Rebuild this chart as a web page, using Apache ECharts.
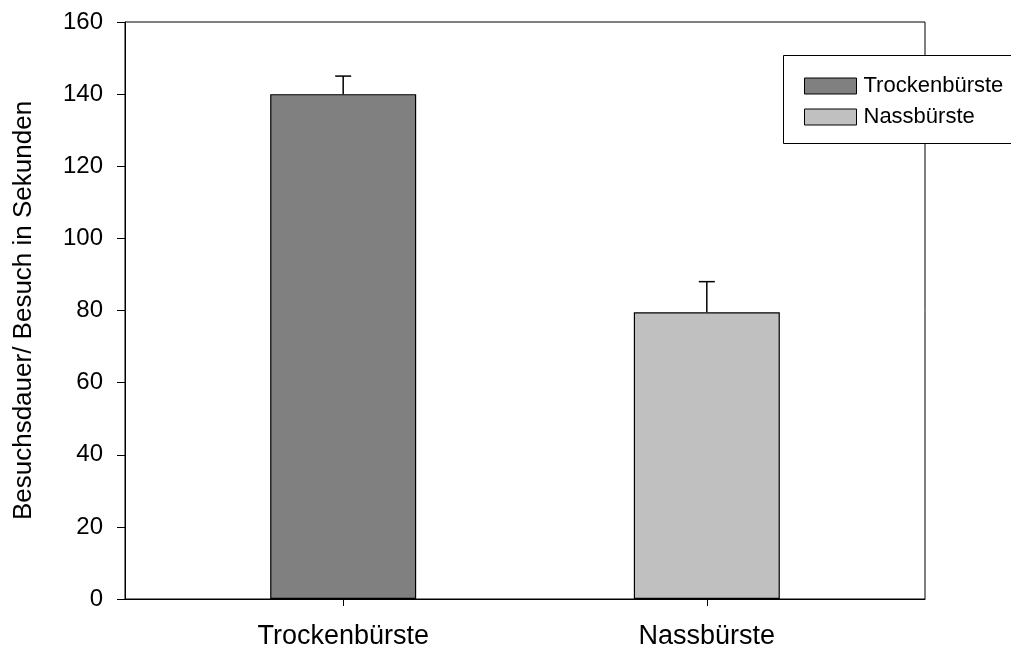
<!DOCTYPE html>
<html><head><meta charset="utf-8">
<script src="https://cdn.jsdelivr.net/npm/echarts@6/dist/echarts.min.js"></script>
<style>html,body{margin:0;padding:0;background:#fff}#c{width:1011px;height:650px}</style>
</head><body><div id="c"></div>
<script>
const categories = ['Trockenbürste', 'Nassbürste'];
const positions = [0, 1];
const means = [140, 79.5];
const errors = [5, 8.5];
const colors = ['#808080', '#c0c0c0'];
const yTicks = [0, 20, 40, 60, 80, 100, 120, 140, 160];

const chart = echarts.init(document.getElementById('c'), null, {renderer: 'canvas'});
const font = 'Liberation Sans, Arial, sans-serif';

chart.setOption({
  animation: false,
  backgroundColor: '#fff',
  grid: {left: 125, right: 86, top: 22, bottom: 50, show: true, borderColor: '#000', borderWidth: 1, backgroundColor: 'transparent'},
  legend: {
    left: 799, top: 70, orient: 'vertical', itemWidth: 52, itemHeight: 16, itemGap: 9,
    textStyle: {fontFamily: font, fontSize: 22, color: '#000', padding: [0, 0, 0, 2]},
    icon: 'rect',
    data: categories.map((c, i) => ({name: c, itemStyle: {color: colors[i], borderColor: '#000', borderWidth: 1}}))
  },
  graphic: [{type: 'rect', left: 783, top: 55, shape: {width: 240, height: 88}, style: {fill: '#fff', stroke: '#000', lineWidth: 1}, z: 0}],
  xAxis: {
    type: 'value', min: -0.6, max: 1.6,
    splitLine: {show: false},
    axisLine: {onZero: false, lineStyle: {color: '#000', width: 1}},
    axisTick: {show: true, customValues: positions, length: 7, lineStyle: {color: '#000'}},
    axisLabel: {customValues: positions, fontFamily: font, fontSize: 27, color: '#000', margin: 24,
      formatter: v => categories[Math.round(v)]}
  },
  yAxis: {
    type: 'value', min: yTicks[0], max: yTicks[yTicks.length - 1], interval: 20,
    name: 'Besuchsdauer/ Besuch in Sekunden', nameLocation: 'middle', nameGap: 88, nameRotate: 90,
    nameTextStyle: {fontFamily: font, fontSize: 26, color: '#000'},
    axisLine: {show: true, onZero: false, lineStyle: {color: '#000', width: 1}},
    axisTick: {show: true, length: 8, lineStyle: {color: '#000'}},
    axisLabel: {fontFamily: font, fontSize: 24, color: '#000', margin: 22},
    splitLine: {show: false}
  },
  series: [
    ...categories.map((c, i) => ({
      name: c, type: 'bar', barWidth: 146, barGap: '-100%',
      data: [[positions[i], means[i]]],
      itemStyle: {color: colors[i], borderColor: '#000', borderWidth: 1.2}, z: 3
    })),
    {
      type: 'custom', z: 4,
      data: means.map((m, i) => [positions[i], m, m + errors[i]]),
      renderItem: function (params, api) {
        const base = api.coord([api.value(0), api.value(1)]);
        const top = api.coord([api.value(0), api.value(2)]);
        const hw = 8;
        return {type: 'group', children: [
          {type: 'line', shape: {x1: base[0], y1: base[1], x2: top[0], y2: top[1]}, style: {stroke: '#000', lineWidth: 1.5}},
          {type: 'line', shape: {x1: top[0] - hw, y1: top[1], x2: top[0] + hw, y2: top[1]}, style: {stroke: '#000', lineWidth: 1.5}}
        ]};
      }
    }
  ]
});
</script></body></html>
